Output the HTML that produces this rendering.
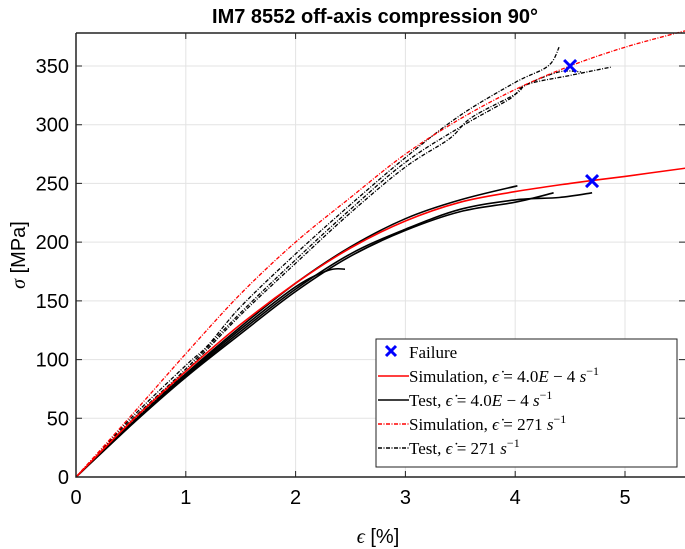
<!DOCTYPE html>
<html><head><meta charset="utf-8"><style>
body{margin:0;background:#fff}
svg{display:block}
text{font-family:"Liberation Sans",sans-serif}
.serif,.serif tspan{font-family:"Liberation Serif",serif}
</style></head><body>
<svg id="chart" width="685" height="549" viewBox="0 0 685 549">
<text x="375" y="23" text-anchor="middle" font-size="20" font-weight="bold">IM7 8552 off-axis compression 90°</text>
<g id="grid"></g>
<g id="series"></g>
<g id="axes"></g>
<text x="378" y="543" text-anchor="middle" font-size="20"><tspan class="serif" font-style="italic">ϵ</tspan> [%]</text>
<text transform="translate(25,255) rotate(-90)" text-anchor="middle" font-size="20"><tspan class="serif" font-style="italic">σ</tspan> [MPa]</text>
<g font-size="17">
<rect x="376" y="339" width="301" height="128" fill="#fff" stroke="#222" stroke-width="1"/>
<g><path d="M386,346 l10,10 M396,346 l-10,10" stroke="#00f" stroke-width="3"/><text class="serif" x="409" y="358">Failure</text></g>
<g><line x1="378" y1="376" x2="409" y2="376" stroke="red" stroke-width="1.6"/><text class="serif" x="409" y="382">Simulation, <tspan font-style="italic">ϵ̇</tspan> = 4.0<tspan font-style="italic">E</tspan> − 4 <tspan font-style="italic">s</tspan><tspan dy="-7" font-size="12">−1</tspan></text></g>
<g><line x1="378" y1="400" x2="409" y2="400" stroke="#000" stroke-width="1.6"/><text class="serif" x="409" y="406">Test, <tspan font-style="italic">ϵ̇</tspan> = 4.0<tspan font-style="italic">E</tspan> − 4 <tspan font-style="italic">s</tspan><tspan dy="-7" font-size="12">−1</tspan></text></g>
<g><line x1="378" y1="424" x2="409" y2="424" stroke="red" stroke-width="1.4" stroke-dasharray="4,1.5,1,1.5"/><text class="serif" x="409" y="430">Simulation, <tspan font-style="italic">ϵ̇</tspan> = 271 <tspan font-style="italic">s</tspan><tspan dy="-7" font-size="12">−1</tspan></text></g>
<g><line x1="378" y1="448" x2="409" y2="448" stroke="#000" stroke-width="1.4" stroke-dasharray="4,1.5,1,1.5"/><text class="serif" x="409" y="454">Test, <tspan font-style="italic">ϵ̇</tspan> = 271 <tspan font-style="italic">s</tspan><tspan dy="-7" font-size="12">−1</tspan></text></g>
</g>
</svg>
<script>
const xTicks=[0,1,2,3,4,5];
const yTicks=[0,50,100,150,200,250,300,350];
const simLowX=[0,0.5,1,1.5,2,2.5,3,3.5,4,4.5,5,5.55];
const simLowY=[0,47,90,130,165,195,218,234,243,250,256,263];
const simHighX=[0,0.5,1,1.5,2,2.5,3,3.5,4,4.5,5,5.55];
const simHighY=[0,52,105,156,200,238,275,305,330,350,366,380];
const testLowA_X=[0,0.5,1,1.5,2,2.5,3,3.5,4.02];
const testLowA_Y=[0,45,88,128,165,196,220,236,248];
const testLowB_X=[0,0.5,1,1.5,2,2.5,3,3.5,4,4.35];
const testLowB_Y=[0,44,85,122,158,188,210,226,234,242];
const testLowC_X=[0,0.5,1,1.5,2,2.5,3,3.5,4,4.4,4.7];
const testLowC_Y=[0,44,86,124,160,190,211,228,236,238,242];
const testLowD_X=[0,0.5,1,1.5,2,2.3,2.45];
const testLowD_Y=[0,45,87,126,162,176,177];
const testHighE_X=[0,0.5,1,1.2,1.5,2,2.5,3,3.5,4,4.3,4.4];
const testHighE_Y=[0,50,95,112,145,190,232,272,308,336,350,366];
const testHighF_X=[0,0.5,1,1.5,2,2.5,3,3.5,3.95,4.1,4.5,4.87];
const testHighF_Y=[0,48,92,140,185,228,268,298,322,334,342,349];
const testHighG_X=[0,0.5,1,1.5,2,2.5,3,3.4,3.6,4,4.1,4.4,4.6];
const testHighG_Y=[0,46,90,138,182,225,264,288,306,326,334,345,345];
const failureX=[4.5,4.7];
const failureY=[350,252];

const X0=76,X1=685,Y0=477,Y1=33;
const sx=v=>X0+v*(625-X0)/5;
const sy=v=>Y0-v*(Y0-66)/350;
const NS="http://www.w3.org/2000/svg";
function mk(tag,attrs,parent){const e=document.createElementNS(NS,tag);for(const k in attrs)e.setAttribute(k,attrs[k]);parent.appendChild(e);return e;}
const grid=document.getElementById('grid'),axes=document.getElementById('axes'),series=document.getElementById('series');
xTicks.forEach(t=>{
  const g=mk('line',{x1:sx(t),x2:sx(t),y1:Y1,y2:Y0,stroke:'#e3e3e3','stroke-width':1},grid);
  
  
  const tk=mk('path',{d:`M${sx(t)},${Y0} v-6 M${sx(t)},${Y1} v6`,stroke:'#222','stroke-width':1},axes);
  
  
  const l=mk('text',{x:sx(t),y:Y0+27,'text-anchor':'middle','font-size':20},axes);
  l.textContent=t;
  
  
});
yTicks.forEach(t=>{
  const g=mk('line',{x1:X0,x2:X1,y1:sy(t),y2:sy(t),stroke:'#e3e3e3','stroke-width':1},grid);
  
  
  const tk=mk('path',{d:`M${X0},${sy(t)} h6 M${X1},${sy(t)} h-6`,stroke:'#222','stroke-width':1},axes);
  
  
  const l=mk('text',{x:X0-7,y:sy(t)+7,'text-anchor':'end','font-size':20},axes);
  l.textContent=t;
  
  
});
const fr=mk('path',{d:`M${X0},${Y1} V${Y0} H${X1} M${X0},${Y1} H${X1}`,fill:'none',stroke:'#222','stroke-width':1.5},axes);


function smooth(pts){
  let d='M'+pts[0][0].toFixed(1)+','+pts[0][1].toFixed(1);
  for(let i=0;i<pts.length-1;i++){
    const p0=pts[i-1]||pts[i],p1=pts[i],p2=pts[i+1],p3=pts[i+2]||p2;
    const c1=[p1[0]+(p2[0]-p0[0])/6,p1[1]+(p2[1]-p0[1])/6];
    const c2=[p2[0]-(p3[0]-p1[0])/6,p2[1]-(p3[1]-p1[1])/6];
    d+=` C${c1[0].toFixed(1)},${c1[1].toFixed(1)} ${c2[0].toFixed(1)},${c2[1].toFixed(1)} ${p2[0].toFixed(1)},${p2[1].toFixed(1)}`;
  }
  return d;
}
function line(xs,ys,color,dash,name){
  const pts=xs.map((x,i)=>[sx(x),sy(ys[i])]);
  const p=mk('path',{d:smooth(pts),fill:'none',stroke:color,'stroke-width':dash?1.3:1.6,'stroke-linejoin':'round'},series);
  if(dash)p.setAttribute('stroke-dasharray','4,1.5,1,1.5');
  
  
}
line(testLowA_X,testLowA_Y,'#000',false,'test-low-rate-1');
line(testLowB_X,testLowB_Y,'#000',false,'test-low-rate-2');
line(testLowC_X,testLowC_Y,'#000',false,'test-low-rate-3');
line(testLowD_X,testLowD_Y,'#000',false,'test-low-rate-4');
line(testHighE_X,testHighE_Y,'#000',true,'test-high-rate-1');
line(testHighF_X,testHighF_Y,'#000',true,'test-high-rate-2');
line(testHighG_X,testHighG_Y,'#000',true,'test-high-rate-3');
line(simLowX,simLowY,'red',false,'simulation-low-rate');
line(simHighX,simHighY,'red',true,'simulation-high-rate');
failureX.forEach((x,i)=>{
  const cx=sx(x),cy=sy(failureY[i]);
  const m=mk('path',{d:`M${cx-6},${cy-6} L${cx+6},${cy+6} M${cx+6},${cy-6} L${cx-6},${cy+6}`,stroke:'#00f','stroke-width':3},series);
  
  
});
</script>
</body></html>
